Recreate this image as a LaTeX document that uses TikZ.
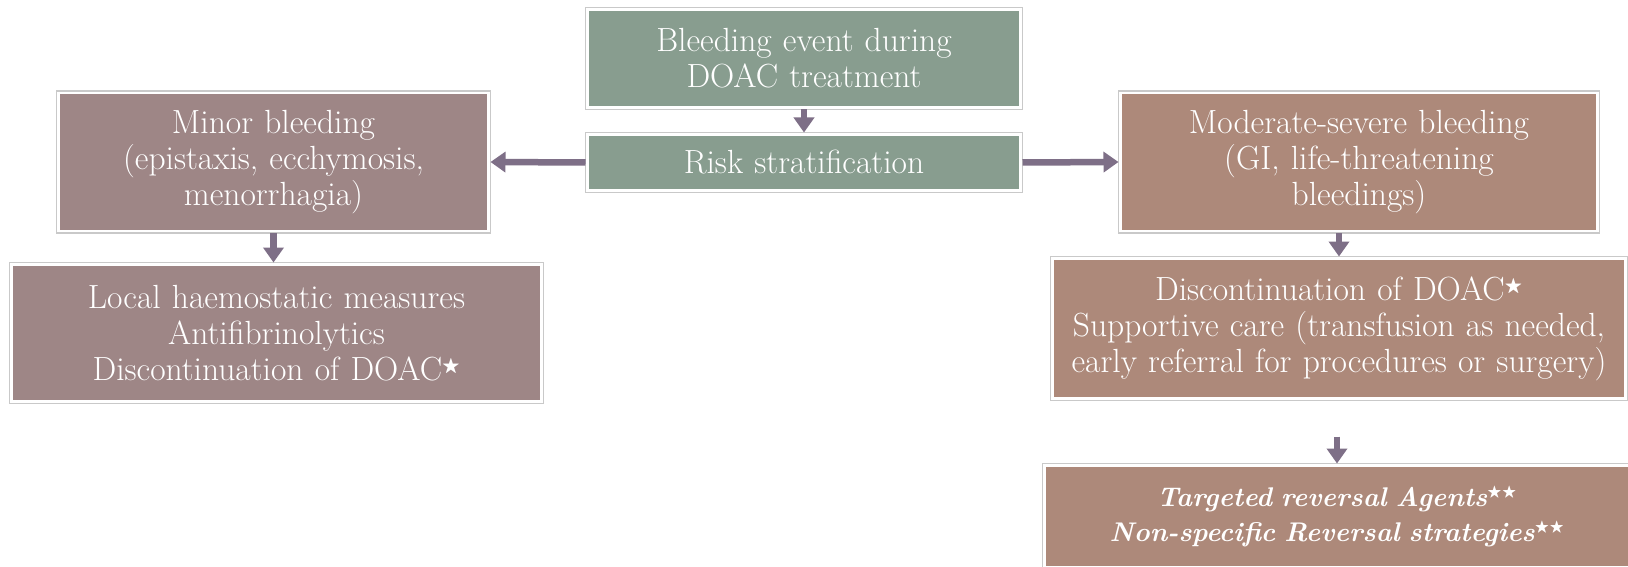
\documentclass[tikz,border=0pt]{standalone}
\usepackage{amssymb}
\usetikzlibrary{arrows.meta}
\definecolor{greenbox}{HTML}{889D8F}
\definecolor{mauvebox}{HTML}{9E8686}
\definecolor{brownbox}{HTML}{AD897A}
\definecolor{arrowcol}{HTML}{7E6F87}
\definecolor{framecol}{HTML}{C9C9C9}
\newcommand{\stmark}{\textsuperscript{\scalebox{0.8}{$\bigstar$}}}
\begin{document}
\begin{tikzpicture}[x=1pt,y=-1pt,
  box/.style={text=white, inner xsep=0pt, inner ysep=0pt, outer sep=3.5pt,
    align=center, font=\fontsize{33.5}{36}\selectfont},
  gbox/.style={box, fill=greenbox},
  mbox/.style={box, fill=mauvebox},
  bbox/.style={box, fill=brownbox},
  frame/.style={draw=framecol, line width=1.2pt},
  conn/.style={draw=arrowcol, line width=6.5pt, -{Triangle[width=20pt,length=15pt]}}]
\useasboundingbox[fill=white] (0,0) rectangle (1628,567);
\begin{scope}
\clip (0,0) rectangle (1628,567);
\node[gbox, text width=430pt, minimum height=95pt] (A) at (804,58.5) {Bleeding event during\\DOAC treatment};
\node[gbox, text width=430pt, minimum height=53pt] (B) at (804,162.5) {Risk stratification};
\node[mbox, text width=427pt, minimum height=135pt] (C) at (273.5,162) {Minor bleeding\\(epistaxis, ecchymosis,\\menorrhagia)};
\node[mbox, text width=527pt, minimum height=134pt] (D) at (276.5,333) {Local haemostatic measures\\Antifibrinolytics\\Discontinuation of DOAC\stmark};
\node[bbox, text width=474pt, minimum height=135pt] (E) at (1359,162) {Moderate-severe bleeding\\(GI, life-threatening\\bleedings)};
\node[bbox, text width=570pt, minimum height=137pt] (F) at (1339,328.5) {Discontinuation of DOAC\stmark\\Supportive care (transfusion as needed,\\early referral for procedures or surgery)};
\node[bbox, text width=582pt, minimum height=99pt, font=\fontsize{27}{35}\selectfont\bfseries\itshape] (G) at (1337,516.5) {Targeted reversal Agents\stmark\stmark\\Non-specific Reversal strategies\stmark\stmark};
\foreach \n in {A,B,C,D,E,F,G}
  \draw[frame] (\n.north west) rectangle (\n.south east);
\draw[conn] (A.south) -- (B.north);
\draw[conn] (B.west) -- (C.east);
\draw[conn] (B.east) -- (E.west);
\draw[conn] (C.south) -- (C.south |- D.north);
\draw[conn] (F.north |- E.south) -- (F.north);
\coordinate (gtop) at ([yshift=27pt]G.north);
\draw[conn] (gtop) -- (G.north);
\end{scope}
\end{tikzpicture}
\end{document}
